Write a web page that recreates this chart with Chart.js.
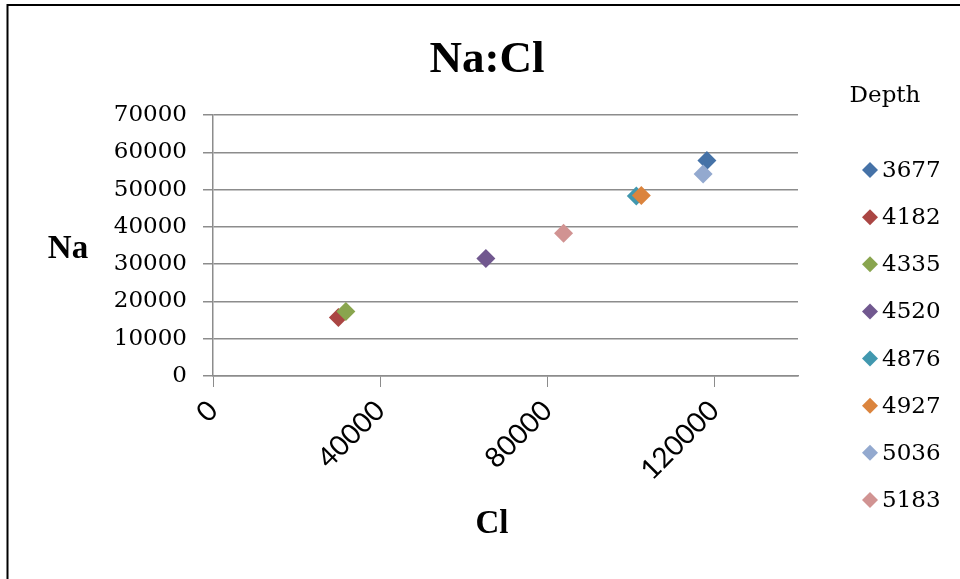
<!DOCTYPE html>
<html>
<head>
<meta charset="utf-8">
<title>Na:Cl</title>
<script src="https://cdn.jsdelivr.net/npm/chart.js@4.4.1/dist/chart.umd.min.js"></script>
<style>
  html, body { margin: 0; padding: 0; background: #ffffff; }
  #wrap { width: 960px; height: 579px; position: relative; }
  canvas { display: block; }
</style>
</head>
<body>
<div id="wrap"><canvas id="chart" width="960" height="579"></canvas></div>
<script>
// Sample depths (legend entries) and their Cl / Na concentrations
const depths   = ['3677', '4182', '4335', '4520', '4876', '4927', '5036', '5183'];
const clValues = [118200, 30000, 31800, 65300, 101300, 102500, 117300, 83900];
const naValues = [57800, 15700, 17300, 31500, 48300, 48400, 54200, 38300];

// Axis tick values
const xTickValues = [0, 40000, 80000, 120000];
const yTickValues = [0, 10000, 20000, 30000, 40000, 50000, 60000, 70000];

// Text
const chartTitle = 'Na:Cl';
const xTitle = 'Cl';
const yTitle = 'Na';
const legendTitle = 'Depth';

// Office 2007 series palette
const palette = ['#4572A7', '#AA4643', '#89A54E', '#71588F', '#4198AF', '#DB843D', '#93A9CF', '#D19392'];

const serif = '"DejaVu Serif", "Liberation Serif", serif';
const boldSerif = '"Liberation Serif", "DejaVu Serif", serif';

const datasets = depths.map((d, i) => ({
  label: d,
  data: [{ x: clValues[i], y: naValues[i] }],
  backgroundColor: palette[i],
  borderColor: palette[i],
  borderWidth: 0,
  pointStyle: 'rectRot',
  pointRadius: 9.5,
  pointHoverRadius: 9.5,
  order: depths.length - i   // later series sit on top
}));

// Frame, titles and the depth legend
const decorations = {
  id: 'decorations',
  beforeDraw(chart) {
    const ctx = chart.ctx;
    ctx.save();
    ctx.fillStyle = '#ffffff';
    ctx.fillRect(0, 0, chart.width, chart.height);
    ctx.strokeStyle = '#000000';
    ctx.lineWidth = 2;
    ctx.beginPath();
    ctx.moveTo(7.5, chart.height);
    ctx.lineTo(7.5, 5);
    ctx.lineTo(chart.width, 5);
    ctx.stroke();
    ctx.restore();
  },
  afterDraw(chart) {
    const ctx = chart.ctx;
    const area = chart.chartArea;
    ctx.save();
    ctx.fillStyle = '#000000';

    // chart title
    ctx.font = 'bold 45px ' + boldSerif;
    ctx.textAlign = 'center';
    ctx.textBaseline = 'alphabetic';
    ctx.fillText(chartTitle, 487, 72);

    // axis titles
    ctx.font = 'bold 33px ' + boldSerif;
    ctx.fillText(yTitle, 68, (area.top + area.bottom) / 2 + 12);
    ctx.fillText(xTitle, 492, 533);

    // legend
    ctx.font = '23px ' + serif;
    ctx.textAlign = 'center';
    ctx.textBaseline = 'middle';
    ctx.fillText(legendTitle, 885, 96);

    ctx.textAlign = 'left';
    chart.data.datasets.forEach((ds, i) => {
      const cy = 170 + i * 47.14;
      const cx = 870;
      const r = 8;
      ctx.fillStyle = ds.backgroundColor;
      ctx.beginPath();
      ctx.moveTo(cx - r, cy);
      ctx.lineTo(cx, cy - r);
      ctx.lineTo(cx + r, cy);
      ctx.lineTo(cx, cy + r);
      ctx.closePath();
      ctx.fill();
      ctx.fillStyle = '#000000';
      ctx.fillText(ds.label, 882, cy + 1);
    });
    ctx.restore();
  }
};

new Chart(document.getElementById('chart'), {
  type: 'scatter',
  data: { datasets },
  plugins: [decorations],
  options: {
    responsive: false,
    animation: false,
    devicePixelRatio: 1,
    events: [],
    layout: { padding: { left: 0, top: 115, right: 162, bottom: 0 } },
    plugins: {
      legend: { display: false },
      title: { display: false },
      tooltip: { enabled: false }
    },
    scales: {
      x: {
        type: 'linear',
        position: 'bottom',
        min: 0,
        max: 140000,
        afterBuildTicks: s => { s.ticks = xTickValues.map(v => ({ value: v })); },
        afterFit: s => { s.height = 203; },
        grid: {
          drawOnChartArea: false,
          drawTicks: true,
          tickLength: 11,
          color: '#8c8c8c',
          lineWidth: 1
        },
        border: { display: true, color: '#8c8c8c', width: 1.5 },
        ticks: {
          autoSkip: false,
          minRotation: 45,
          maxRotation: 45,
          padding: 7,
          color: '#000000',
          font: { family: 'Lato, "Open Sans", sans-serif', size: 28 },
          callback: v => String(v)
        }
      },
      y: {
        type: 'linear',
        position: 'left',
        min: 0,
        max: 70000,
        afterBuildTicks: s => { s.ticks = yTickValues.map(v => ({ value: v })); },
        afterFit: s => { s.width = 213; },
        grid: {
          drawOnChartArea: true,
          drawTicks: true,
          tickLength: 10,
          color: '#8c8c8c',
          lineWidth: 1.5
        },
        border: { display: true, color: '#8c8c8c', width: 1.5 },
        ticks: {
          padding: 16,
          color: '#000000',
          font: { family: serif, size: 23 },
          callback: v => String(v)
        }
      }
    }
  }
});
</script>
</body>
</html>
